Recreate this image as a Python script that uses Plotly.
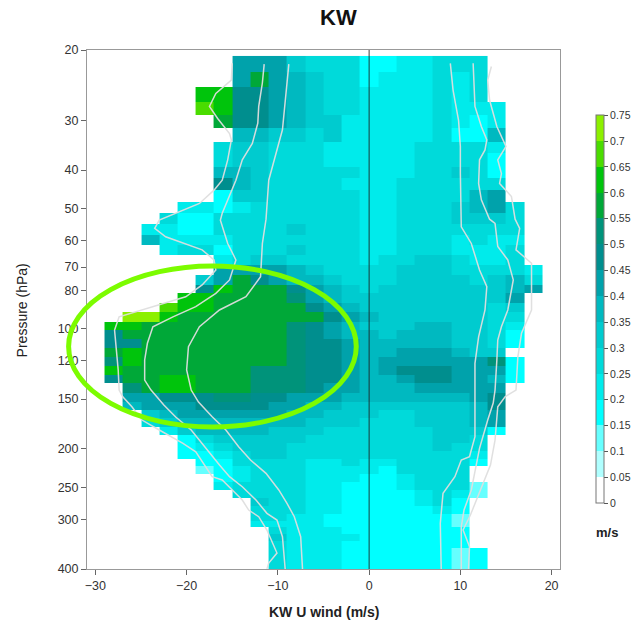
import plotly.graph_objects as go

# ---- labels ----
title_text = "KW"
x_title = "KW U wind (m/s)"
y_title = "Pressure (hPa)"
cbar_unit = "m/s"

# ---- grid ----
# zonal-wind bin centres (m/s), 2 m/s bins
u_centres = list(range(-28, 19, 2))
# pressure bin edges (hPa), top to bottom
p_edges = [20.70, 22.67, 24.72, 26.95, 29.11, 31.43, 33.95, 36.30, 39.23, 41.95,
           44.87, 48.01, 51.34, 54.61, 58.03, 61.66, 65.32, 69.18, 73.29, 77.42,
           81.46, 86.15, 90.75, 95.98, 100.69, 106.06, 111.91, 117.47, 123.59, 130.56,
           136.96, 144.85, 152.31, 159.78, 167.61, 175.94, 184.56, 193.64, 202.44, 211.40,
           220.76, 230.52, 241.41, 253.54, 266.00, 278.09, 290.39, 302.37, 313.92, 326.87,
           340.35, 354.38, 368.99, 384.21, 405.0]

# Amplitude class per cell: '.' = no data, hex digit k = [0.05k, 0.05(k+1))
amp_rows = [
    ".......88865553344555...",
    ".......8b876553444545...",
    ".....cc99876554444545...",
    ".....dc998765544445444..",
    "......b998766444445434..",
    ".......776656444445337..",
    "......5665554444455554..",
    "......5665554444455553..",
    "......7765555544455653..",
    "......9765555444555555..",
    "......3665555544555578..",
    "....4434555555445556785.",
    "...53355555555445556665.",
    "..443355556555445555555.",
    "..744445555555445554544.",
    "...45535556555445554445.",
    "......45665555455665445.",
    "......888876555566655554",
    ".....68b9877655566665675",
    ".....9cbbb98765666666678",
    "....ccbbbba876666666668.",
    "...dccbbbbb987666666656.",
    ".eecbbbbbbbb98766666655.",
    "ccbbbbbbbba987666776654.",
    "9bbbbbbbbba987767776653.",
    "99bbbbbbbba998777776653.",
    "bcbbbbbbbba99877888766..",
    "acbbbbbbbba9987888888a3.",
    "cbbbbbbbaaa998789998883.",
    "9bbccbbbaaa998778998873.",
    ".abccbbbaaa98877788888..",
    ".88999aa99888777777789..",
    ".788899998877666666679..",
    "..67888888776665566678..",
    "..56777777766655566678..",
    "...4677776665555556663..",
    "....35666665555555665...",
    "....34566655555555655...",
    "....33456655555555554...",
    ".....3355554454455553...",
    ".....234555444435555....",
    "......34555444334555....",
    "......455554433345552...",
    ".......55554433334542...",
    "........655443333453....",
    "........555443333343....",
    "........554433333332....",
    "........444433333332....",
    ".........54443333333....",
    ".........64444333333....",
    ".........54443333333....",
    ".........544433333323...",
    ".........544433333323...",
    ".........544433333323...",
]

# ---- colour classes ----
class_width = 0.05
class_colours = ["#FFFFFF", "#B0FFFF", "#66FFFF", "#00FFFF", "#00EBEB",
                 "#00DADA", "#00CBCF", "#00B9C0", "#00A2AB", "#008E8E",
                 "#00937A", "#00A838", "#00C40C", "#4ADC00", "#8CF000"]
cbar_ticks = [0, 0.05, 0.1, 0.15, 0.2, 0.25, 0.3, 0.35, 0.4, 0.45,
              0.5, 0.55, 0.6, 0.65, 0.7, 0.75]

# ---- wind-profile curves (u in m/s, p in hPa) ----
curve_a_u = [-15.0, -15.1, -16.8, -17.5, -16.6, -15.3, -15.1, -15.5, -16.1, -17.0,
             -18.6, -20.4, -23.0, -23.5, -22.3, -18.3, -17.0, -16.8, -18.3, -20.1,
             -23.7, -27.4, -27.9, -27.7, -27.5, -27.4, -27.0, -26.0, -24.9, -23.0,
             -20.4, -19.0, -17.9, -17.2, -16.1, -15.0, -13.9, -13.2, -12.1, -11.2,
             -10.6, -10.1, -11.0, -11.2]
curve_a_p = [21.6, 23.8, 25.7, 27.7, 29.7, 32.4, 33.6, 37.7, 42.4, 44.9,
             48.5, 50.4, 53.4, 56.0, 58.8, 63.4, 67.2, 71.2, 77.6, 83.1,
             88.0, 93.3, 100.7, 113.0, 126.8, 142.4, 148.0, 156.8, 169.3, 179.3,
             193.6, 203.3, 221.7, 234.8, 239.3, 253.5, 268.6, 284.6, 295.8, 319.4,
             344.3, 364.8, 386.4, 400]
curve_b_u = [-11.5, -11.7, -12.1, -12.2, -12.8, -13.9, -14.6, -15.3, -16.1, -16.3,
             -15.5, -14.6, -15.3, -16.8, -19.0, -21.5, -23.7, -24.3, -24.6, -24.6,
             -23.9, -22.5, -21.2, -19.5, -17.5, -16.4, -15.3, -13.9, -12.4, -11.2,
             -10.1, -9.5, -9.2]
curve_b_p = [21.7, 24.2, 27.7, 30.5, 34.3, 37.7, 42.4, 46.6, 51.3, 53.4,
             61.1, 67.2, 75.4, 81.5, 88.0, 93.3, 98.8, 108.7, 119.7, 134.4,
             142.4, 155.2, 166.4, 179.3, 205.1, 219.5, 234.8, 248.8, 268.6, 290.1,
             301.5, 332.0, 400]
curve_c_u = [-8.8, -9.2, -9.5, -10.2, -11.0, -11.3, -11.7, -11.9, -13.5, -16.4,
             -18.6, -19.8, -20.0, -19.5, -18.7, -17.2, -15.7, -14.3, -13.0, -11.3,
             -9.9, -9.0, -8.2, -7.5, -7.3]
curve_c_p = [21.7, 27.7, 31.7, 36.3, 42.4, 53.1, 61.1, 74.0, 83.1, 89.7,
             98.8, 110.9, 126.8, 142.4, 152.6, 166.1, 179.3, 197.5, 213.2, 230.3,
             253.5, 273.8, 295.8, 332.0, 400]
curve_d_u = [8.9, 9.2, 9.8, 10.0, 10.0, 10.1, 10.1, 11.2, 12.1, 12.9,
             12.7, 12.0, 11.6, 11.6, 11.6, 11.0, 10.1, 9.4, 8.1, 7.8, 7.9]
curve_d_p = [21.6, 25.2, 30.0, 34.9, 40.8, 53.1, 55.5, 61.1, 71.2, 78.4,
             89.7, 104.7, 122.0, 142.4, 186.4, 209.2, 213.2, 234.8, 258.4, 307.3, 400]
curve_e_u = [11.4, 11.6, 12.3, 12.9, 12.7, 12.1, 12.0, 12.3, 13.2, 13.8,
             14.1, 15.2, 15.8, 15.2, 14.5, 14.1, 14.0, 13.8, 13.6, 13.0,
             12.1, 11.8, 11.2, 10.4, 10.1, 10.1, 10.1]
curve_e_p = [21.6, 27.7, 31.1, 33.6, 35.6, 37.7, 43.2, 47.5, 53.1, 54.4,
             62.2, 67.2, 75.4, 89.7, 98.8, 106.7, 119.7, 142.4, 153.5, 169.3,
             199.3, 217.3, 253.5, 284.6, 313.4, 344.9, 400]
curve_f_u = [13.4, 13.0, 13.2, 14.0, 15.0, 14.1, 14.5, 14.3, 15.6, 16.0,
             16.5, 16.1, 17.8, 17.8, 16.7, 16.3, 16.1, 14.9, 14.1, 13.8,
             13.3, 12.2, 11.1, 10.3, 11.0, 10.9]
curve_f_p = [22.0, 23.8, 26.7, 31.1, 34.9, 37.7, 40.8, 43.2, 46.6, 53.1,
             56.0, 63.4, 68.5, 89.7, 102.6, 117.5, 142.4, 148.0, 156.8, 190.0,
             219.5, 253.5, 292.9, 319.4, 351.7, 400]

y_ticks = [20, 30, 40, 50, 60, 70, 80, 100, 120, 150, 200, 250, 300, 400]
x_ticks = [-30, -20, -10, 0, 10, 20]

# ---- build the value matrix ----
assert all(len(r) == len(u_centres) for r in amp_rows)
assert len(amp_rows) == len(p_edges) - 1
z = [[None if ch == "." else (int(ch, 16) + 0.5) * class_width for ch in row]
     for row in amp_rows]

n_cls = len(class_colours)
colorscale = []
for i, c in enumerate(class_colours):
    colorscale.append([i / n_cls, c])
    colorscale.append([(i + 1) / n_cls, c])

fig = go.Figure()
fig.add_trace(go.Heatmap(
    x=u_centres, y=p_edges, z=z,
    zmin=0, zmax=class_width * n_cls,
    colorscale=colorscale, hoverongaps=False,
    colorbar=dict(
        x=1.0756, xanchor="left", xpad=0,
        y=0.5005, yanchor="middle", ypad=0,
        len=387.5, lenmode="pixels", thickness=8,
        outlinewidth=1, outlinecolor="#777777",
        tickmode="array", tickvals=cbar_ticks,
        ticktext=[f"{t:g}" for t in cbar_ticks],
        ticks="outside", ticklen=4, tickcolor="#555555",
        tickfont=dict(size=10.5, color="#333333"),
    ),
))

for cu, cp in [(curve_a_u, curve_a_p), (curve_b_u, curve_b_p), (curve_c_u, curve_c_p),
               (curve_d_u, curve_d_p), (curve_e_u, curve_e_p), (curve_f_u, curve_f_p)]:
    fig.add_trace(go.Scatter(x=cu, y=cp, mode="lines",
                             line=dict(color="rgba(222,222,222,0.95)", width=1.5),
                             showlegend=False, hoverinfo="skip"))

font_family = "Liberation Sans, Arial, Helvetica, sans-serif"
fig.update_layout(
    width=643, height=626,
    margin=dict(l=87, r=80, t=50, b=57),
    paper_bgcolor="white", plot_bgcolor="white",
    font=dict(family=font_family, color="#222222"),
    showlegend=False,
    xaxis=dict(range=[-30.92, 20.92], tickmode="array", tickvals=x_ticks,
               ticks="outside", ticklen=5, tickcolor="#666666",
               tickfont=dict(size=12.5, color="#333333"),
               showgrid=False, zeroline=False,
               showline=True, mirror=True, linecolor="#999999", linewidth=1),
    yaxis=dict(type="log", range=[2.60206, 1.30103], tickmode="array",
               tickvals=y_ticks, ticktext=[str(t) for t in y_ticks],
               ticks="outside", ticklen=5, tickcolor="#666666",
               tickfont=dict(size=12.5, color="#333333"),
               showgrid=False, zeroline=False,
               showline=True, mirror=True, linecolor="#999999", linewidth=1),
)

# zero-wind reference line
fig.add_shape(type="line", xref="x", yref="paper", x0=0, x1=0, y0=0, y1=1,
              line=dict(color="rgba(30,30,30,0.85)", width=1))
# highlight ring around the strong westward-wind signal
fig.add_shape(type="circle", xref="paper", yref="paper",
              x0=-0.0389, x1=0.5693, y0=0.2736, y1=0.5838,
              line=dict(color="#7CFC00", width=5))

fig.add_annotation(text=f"<b>{title_text}</b>", xref="paper", yref="paper",
                   x=0.5315, y=1.0617, xanchor="center", yanchor="middle",
                   showarrow=False, font=dict(size=22, color="#111111"))
fig.add_annotation(text=f"<b>{x_title}</b>", xref="paper", yref="paper",
                   x=0.5, y=-0.0829, xanchor="center", yanchor="middle",
                   showarrow=False, font=dict(size=14, color="#222222"))
fig.add_annotation(text=y_title, xref="paper", yref="paper",
                   x=-0.1366, y=0.499, xanchor="center", yanchor="middle",
                   showarrow=False, textangle=-90,
                   font=dict(size=14, color="#222222"))
fig.add_annotation(text=f"<b>{cbar_unit}</b>", xref="paper", yref="paper",
                   x=1.0987, y=0.0694, xanchor="center", yanchor="middle",
                   showarrow=False, font=dict(size=13, color="#222222"))

fig.write_html("out.html")
